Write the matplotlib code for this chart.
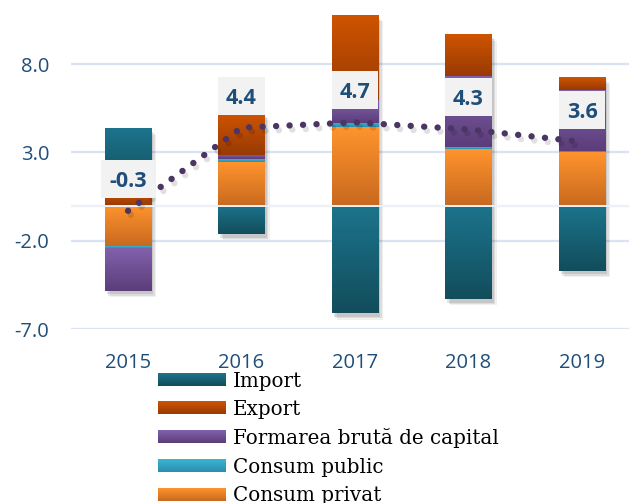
import numpy as np
import matplotlib
matplotlib.use('Agg')
import matplotlib.pyplot as plt
from matplotlib.patches import Rectangle
from matplotlib import patheffects as pe
from matplotlib.colors import to_rgb
from matplotlib.transforms import ScaledTranslation

years = ['2015', '2016', '2017', '2018', '2019']
consum_privat = [-2.29, 2.47, 4.43, 3.19, 3.02]
consum_public = [-0.10, 0.15, 0.23, 0.10, 0.08]
formarea = [-2.43, 0.23, 1.30, 4.06, 3.42]
export_ = [0.90, 2.35, 4.81, 2.32, 0.72]
import_ = [3.46, -1.62, -6.10, -5.30, -3.70]
pib = [-0.3, 4.4, 4.7, 4.3, 3.6]

yticks = [-7.0, -2.0, 3.0, 8.0]
ytick_labels = ['-7.0', '-2.0', '3.0', '8.0']

# stacking order (from zero outwards) with gradient colours (top, bottom)
series = [
    ('Consum privat', consum_privat, '#FF942D', '#C8691F'),
    ('Consum public', consum_public, '#3BB4D4', '#2A8FAE'),
    ('Formarea brută de capital', formarea, '#8261AC', '#5B3D7A'),
    ('Export', export_, '#CF5400', '#983A05'),
    ('Import', import_, '#1C748C', '#124D5C'),
]
legend_order = ['Import', 'Export', 'Formarea brută de capital', 'Consum public', 'Consum privat']

W, H = 629, 503
fig = plt.figure(figsize=(W / 100, H / 100), dpi=100)
ax = fig.add_axes([71.3 / W, (H - 329.3) / H, 567.5 / W, 329.3 / H])

x = np.arange(len(years))
bw = 0.41


def grad(top, bottom, n=64):
    t = np.linspace(0, 1, n)[:, None]
    c = (1 - t) * np.array(to_rgb(top)) + t * np.array(to_rgb(bottom))
    return c[:, None, :]


# grid lines
for gy in yticks + [0.0]:
    ax.axhline(gy, color='#DAE3F2', lw=1.6, zorder=0)

# soft shadows of whole bars
pos_base = np.zeros(len(x))
neg_base = np.zeros(len(x))
for _, vals, _, _ in series:
    v = np.array(vals)
    pos_base += np.where(v > 0, v, 0)
    neg_base += np.where(v < 0, v, 0)
for off, a in [((1.5, -2.5), 0.10), ((2.5, -3.5), 0.08), ((3.5, -4.5), 0.06)]:
    ax.bar(x, pos_base - neg_base, bottom=neg_base, width=bw, color='k', zorder=1,
           path_effects=[pe.SimplePatchShadow(offset=off, shadow_rgbFace='k', alpha=a)])

pos_base = np.zeros(len(x))
neg_base = np.zeros(len(x))
for name, vals, ctop, cbot in series:
    v = np.array(vals)
    bottoms = np.where(v >= 0, pos_base, neg_base)
    bars = ax.bar(x, v, bottom=bottoms, width=bw, color=ctop, zorder=2, linewidth=0)
    img = grad(ctop, cbot)
    for p in bars.patches:
        bb = p.get_bbox()
        y0, y1 = min(bb.y0, bb.y1), max(bb.y0, bb.y1)
        im = ax.imshow(img, extent=(bb.x0, bb.x1, y0, y1), aspect='auto',
                       interpolation='bilinear', zorder=2.5, origin='upper')
        im.set_clip_path(p)
    pos_base += np.where(v > 0, v, 0)
    neg_base += np.where(v < 0, v, 0)

ax.axhline(0, color='#EEF2F8', lw=1.4, zorder=3)

# GDP dotted line
ax.plot(x, pib, color='#4B3562', lw=4.6, linestyle=(0, (0.01, 2.1)),
        dash_capstyle='round', solid_capstyle='round', zorder=5,
        path_effects=[pe.SimpleLineShadow(offset=(2, -3), alpha=0.12), pe.Normal()])

ax.set_xlim(-0.5, 4.5)
ax.set_ylim(-7, 11.62)
for s in ax.spines.values():
    s.set_visible(False)
ax.set_yticks(yticks)
ax.set_yticklabels(ytick_labels)
ax.set_xticks(x)
ax.set_xticklabels(years)
ax.tick_params(axis='both', length=0, labelsize=14.5, labelcolor='#1F4E79')
ax.tick_params(axis='y', pad=16)
ax.tick_params(axis='x', pad=17)
for lab in ax.get_xticklabels() + ax.get_yticklabels():
    lab.set_family('Open Sans')

# data labels
texts = []
for i, v in enumerate(pib):
    t = ax.annotate(f'{v:.1f}', xy=(i, v), xytext=(0, (32 - 7.9) * 0.72),
                    textcoords='offset points', ha='center', va='baseline',
                    fontsize=15.5, fontweight='bold', color='#1F4E79',
                    family='Open Sans', zorder=8, annotation_clip=False)
    texts.append(t)

fig.canvas.draw()
r = fig.canvas.get_renderer()
for i, (t, v) in enumerate(zip(texts, pib)):
    bb = t.get_window_extent(r)
    w = bb.width + 16
    rect = Rectangle((-w / 2, 32 - 19), w, 38,
                     transform=ScaledTranslation(i, v, ax.transData),
                     facecolor='#F2F2F2', edgecolor='none', zorder=7, clip_on=False)
    ax.add_artist(rect)

# legend (manual)
ov = fig.add_axes([0, 0, 1, 1])
ov.set_xlim(0, W)
ov.set_ylim(H, 0)
ov.axis('off')
ov.patch.set_alpha(0)
lookup = {s[0]: s for s in series}
for k, name in enumerate(legend_order):
    _, _, ctop, cbot = lookup[name]
    cy = 379.3 + k * 28.7
    ov.imshow(grad(ctop, cbot), extent=(158, 226, cy + 6.5, cy - 6.5), aspect='auto',
              interpolation='bilinear', origin='upper')
    ov.text(233, cy + 7.3, name, fontsize=14.3, family='DejaVu Serif', color='black',
            va='baseline', ha='left')
ov.set_xlim(0, W)
ov.set_ylim(H, 0)

fig.savefig('out.png', dpi=100)
